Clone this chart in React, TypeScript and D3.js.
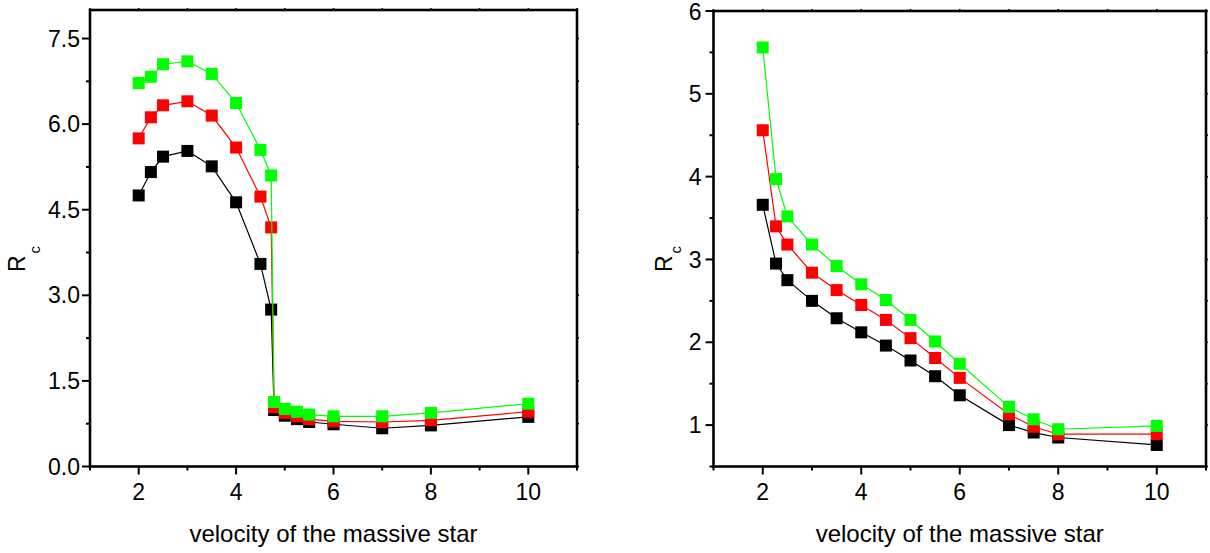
import React from "react";
import * as d3 from "d3";

// ---------- data ----------
const xLeft = [2, 2.25, 2.5, 3, 3.5, 4, 4.5, 4.72, 4.78, 5, 5.25, 5.5, 6, 7, 8, 10];
const blackLeft = [4.75, 5.16, 5.43, 5.53, 5.26, 4.63, 3.55, 2.75, 0.99, 0.89, 0.83, 0.78, 0.74, 0.67, 0.72, 0.87];
const redLeft = [5.75, 6.12, 6.33, 6.4, 6.15, 5.59, 4.73, 4.19, 1.04, 0.94, 0.88, 0.83, 0.79, 0.78, 0.81, 0.96];
const greenLeft = [6.72, 6.83, 7.05, 7.1, 6.88, 6.37, 5.55, 5.1, 1.13, 1.01, 0.96, 0.91, 0.88, 0.88, 0.94, 1.1];

const xRight = [2, 2.27, 2.5, 3, 3.5, 4, 4.5, 5, 5.5, 6, 7, 7.5, 8, 10];
const blackRight = [3.66, 2.95, 2.75, 2.5, 2.29, 2.12, 1.96, 1.78, 1.59, 1.36, 1.0, 0.91, 0.85, 0.76];
const redRight = [4.56, 3.4, 3.18, 2.84, 2.63, 2.45, 2.27, 2.05, 1.81, 1.57, 1.13, 0.98, 0.89, 0.89];
const greenRight = [5.56, 3.97, 3.52, 3.18, 2.92, 2.7, 2.51, 2.27, 2.01, 1.74, 1.22, 1.07, 0.95, 0.99];

const xMajorTicks = [2, 4, 6, 8, 10];
const xMinorTicks = [1, 3, 5, 7, 9, 11];
const yMajorLeft = [0, 1.5, 3, 4.5, 6, 7.5];
const yMinorLeft = [0.75, 2.25, 3.75, 5.25, 6.75];
const yMajorRight = [1, 2, 3, 4, 5, 6];
const yMinorRight = [0.5, 1.5, 2.5, 3.5, 4.5, 5.5];

const xTitle = "velocity of the massive star";
const seriesColors = ["#000000", "#ff0000", "#00ff00"];

const FONT = "'Liberation Sans', Arial, Helvetica, sans-serif";

type PanelProps = {
  x0: number; x1: number; y0: number; y1: number;
  xDomain: [number, number]; yDomain: [number, number];
  xs: number[]; series: number[][];
  yMajor: number[]; yMinor: number[];
  yFmt: (v: number) => string;
  labelGap: number;
  rcX: number; rcDy: number;
};

function Panel(p: PanelProps) {
  const x = d3.scaleLinear().domain(p.xDomain).range([p.x0, p.x1]);
  const y = d3.scaleLinear().domain(p.yDomain).range([p.y1, p.y0]);
  const line = d3.line<[number, number]>().x(d => x(d[0])).y(d => y(d[1]));
  const ms = 12;
  const tickW = 2;
  return (
    <g>
      {p.series.map((vals, si) => {
        const pts: [number, number][] = p.xs.map((xv, i) => [xv, vals[i]]);
        return (
          <g key={si}>
            <path d={line(pts) || ""} fill="none" stroke={seriesColors[si]} strokeWidth={1.2} />
            {pts.map((d, i) => (
              <rect key={i} x={x(d[0]) - ms / 2} y={y(d[1]) - ms / 2} width={ms} height={ms} fill={seriesColors[si]} />
            ))}
          </g>
        );
      })}
      {/* frame */}
      <rect x={p.x0} y={p.y0} width={p.x1 - p.x0} height={p.y1 - p.y0} fill="none" stroke="#000" strokeWidth={2.6} />
      {/* bottom ticks */}
      {xMajorTicks.map(t => (
        <line key={"xm" + t} x1={x(t)} x2={x(t)} y1={p.y1} y2={p.y1 + 8} stroke="#000" strokeWidth={tickW} />
      ))}
      {xMinorTicks.map(t => (
        <line key={"xn" + t} x1={x(t)} x2={x(t)} y1={p.y1} y2={p.y1 + 4} stroke="#000" strokeWidth={tickW} />
      ))}
      {/* top ticks */}
      {[...xMajorTicks, ...xMinorTicks].map(t => (
        <line key={"xt" + t} x1={x(t)} x2={x(t)} y1={p.y0} y2={p.y0 - 2} stroke="#000" strokeWidth={1.5} />
      ))}
      {/* left ticks */}
      {p.yMajor.map(t => (
        <line key={"ym" + t} x1={p.x0} x2={p.x0 - 8} y1={y(t)} y2={y(t)} stroke="#000" strokeWidth={tickW} />
      ))}
      {p.yMinor.map(t => (
        <line key={"yn" + t} x1={p.x0} x2={p.x0 - 4} y1={y(t)} y2={y(t)} stroke="#000" strokeWidth={tickW} />
      ))}
      {/* right ticks */}
      {[...p.yMajor, ...p.yMinor].map(t => (
        <line key={"yr" + t} x1={p.x1} x2={p.x1 + 2} y1={y(t)} y2={y(t)} stroke="#000" strokeWidth={1.5} />
      ))}
      {/* tick labels */}
      {xMajorTicks.map(t => (
        <text key={"xl" + t} x={x(t)} y={p.y1 + 33.5} textAnchor="middle" fontFamily={FONT} fontSize={23} fill="#000">
          {String(t)}
        </text>
      ))}
      {p.yMajor.map(t => (
        <text key={"yl" + t} x={p.x0 - p.labelGap} y={Math.max(y(t), 12)} dy="0.35em" textAnchor="end" fontFamily={FONT} fontSize={23} fill="#000">
          {p.yFmt(t)}
        </text>
      ))}
      {/* x title */}
      <text x={(p.x0 + p.x1) / 2} y={542} textAnchor="middle" fontFamily={FONT} fontSize={24} fill="#000">
        {xTitle}
      </text>
      {/* y title */}
      <text transform={`translate(${p.rcX},272) rotate(-90)`} fontFamily={FONT} fill="#000">
        <tspan fontSize={23}>R</tspan>
        <tspan fontSize={15} dx={2} dy={p.rcDy}>c</tspan>
      </text>
    </g>
  );
}

export default function App() {
  return (
    <svg width={1210} height={553} style={{ position: "absolute", left: 0, top: 0, background: "#fff" }}>
      <rect x={0} y={0} width={1210} height={553} fill="#fff" />
      <Panel
        x0={90} x1={577} y0={10} y1={466.5}
        xDomain={[1, 11]} yDomain={[0, 8]}
        xs={xLeft} series={[blackLeft, redLeft, greenLeft]}
        yMajor={yMajorLeft} yMinor={yMinorLeft}
        yFmt={d3.format(".1f")}
        labelGap={10}
        rcX={25} rcDy={15}
      />
      <Panel
        x0={713.5} x1={1206} y0={11} y1={466.5}
        xDomain={[1, 11]} yDomain={[0.5, 6]}
        xs={xRight} series={[blackRight, redRight, greenRight]}
        yMajor={yMajorRight} yMinor={yMinorRight}
        yFmt={d3.format("d")}
        labelGap={12}
        rcX={672} rcDy={9}
      />
    </svg>
  );
}
